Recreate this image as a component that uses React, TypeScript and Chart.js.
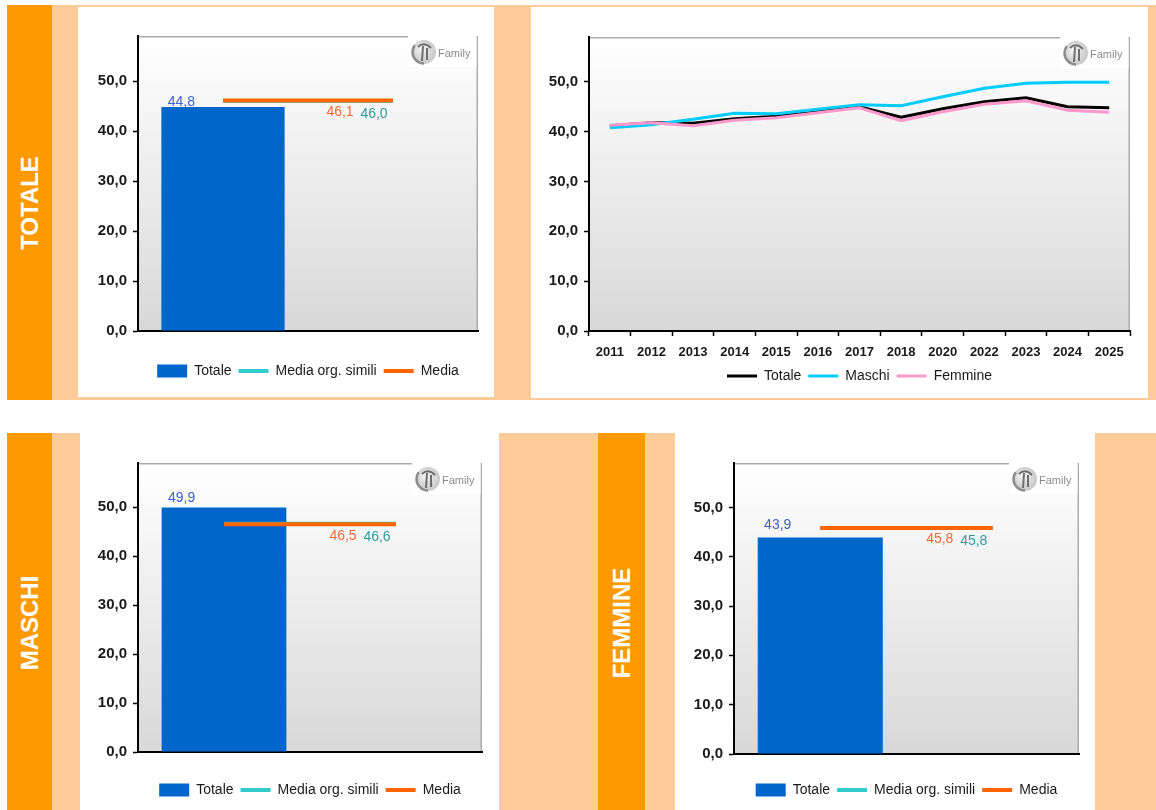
import { useEffect, useRef } from 'react';
import { Chart, registerables } from 'chart.js';

Chart.register(...registerables);

const FONT = '"Liberation Sans", Arial, Helvetica, sans-serif';
const ORANGE = '#FF9900';
const PEACH = '#FFCC99';

// Trend over the years
const years = ['2011', '2012', '2013', '2014', '2015', '2016', '2017', '2018', '2020', '2022', '2023', '2024', '2025'];
const trendTotale = [41.2, 41.8, 41.7, 42.6, 43.1, 44.0, 45.0, 42.9, 44.6, 46.0, 46.8, 45.0, 44.8];
const trendMaschi = [40.8, 41.4, 42.5, 43.7, 43.6, 44.5, 45.4, 45.2, 47.0, 48.7, 49.7, 49.9, 49.9];
const trendFemmine = [41.3, 41.8, 41.2, 42.3, 42.8, 43.8, 44.8, 42.2, 44.0, 45.5, 46.2, 44.3, 43.9];
const trendNames = ['Totale', 'Maschi', 'Femmine'];

// Current value against the averages (TOTALE, MASCHI, FEMMINE)
const panelTitles = ['TOTALE', 'MASCHI', 'FEMMINE'];
const currentValues = [44.8, 49.9, 43.9];
const similiValues = [46.0, 46.6, 45.8];
const mediaValues = [46.1, 46.5, 45.8];
const snapshotNames = ['Totale', 'Media org. simili', 'Media'];
const snapshotSlots = ['', ''];

// Value axis: 0 to 59, labelled every 10
const yMin = 0;
const yMax = 59;
const yStep = 10;

const fmt = (v: number) => Number(v).toFixed(1).replace('.', ',');

function drawLogo(ctx: CanvasRenderingContext2D, right: number, top: number) {
  ctx.fillStyle = '#ffffff';
  ctx.fillRect(right - 70, top - 2, 68.5, 33);
  const cx = right - 54;
  const cy = top + 16;
  const rg = ctx.createRadialGradient(cx - 3, cy - 4, 1, cx, cy, 13);
  rg.addColorStop(0, '#f4f4f4');
  rg.addColorStop(1, '#c4c4c4');
  ctx.fillStyle = rg;
  ctx.beginPath();
  ctx.arc(cx, cy, 12, 0, Math.PI * 2);
  ctx.fill();
  ctx.strokeStyle = '#8c8c8c';
  ctx.lineWidth = 2.5;
  ctx.beginPath();
  ctx.arc(cx, cy, 11.5, Math.PI * 0.5, Math.PI * 1.2);
  ctx.stroke();
  ctx.strokeStyle = '#6e6e6e';
  ctx.lineWidth = 2;
  ctx.beginPath();
  ctx.moveTo(cx - 2, cy + 9);
  ctx.lineTo(cx - 1, cy - 6);
  ctx.moveTo(cx + 3, cy + 8);
  ctx.lineTo(cx + 3, cy - 4);
  ctx.moveTo(cx - 6, cy - 5);
  ctx.quadraticCurveTo(cx, cy - 11, cx + 7, cy - 4);
  ctx.stroke();
  ctx.fillStyle = '#8a8a8a';
  ctx.font = `11px ${FONT}`;
  ctx.textAlign = 'left';
  ctx.textBaseline = 'middle';
  ctx.fillText('Family', cx + 14, cy + 2);
}

// Gradient plot background, light frame and the small logo; legend centred under the plot
const plotFrame = {
  id: 'plotFrame',
  afterLayout(chart: any) {
    const lg = chart.legend;
    if (lg) {
      lg.left = chart.chartArea.left;
      lg.right = chart.chartArea.right;
    }
  },
  beforeDraw(chart: any) {
    const { ctx, chartArea: a } = chart;
    ctx.save();
    const g = ctx.createLinearGradient(0, a.top, 0, a.bottom);
    g.addColorStop(0, '#ffffff');
    g.addColorStop(1, '#d8d8d8');
    ctx.fillStyle = g;
    ctx.fillRect(a.left, a.top, a.right - a.left, a.bottom - a.top);
    ctx.strokeStyle = '#ababab';
    ctx.lineWidth = 1.5;
    ctx.beginPath();
    ctx.moveTo(a.left, a.top + 0.75);
    ctx.lineTo(a.right, a.top + 0.75);
    ctx.moveTo(a.right - 0.75, a.top);
    ctx.lineTo(a.right - 0.75, a.bottom);
    ctx.stroke();
    drawLogo(ctx, a.right, a.top);
    ctx.restore();
  },
};

// Value labels: bar value above the bar, averages below the end of their lines
const valueLabels = {
  id: 'valueLabels',
  afterDatasetsDraw(chart: any, _args: any, opts: any) {
    const ctx = chart.ctx;
    ctx.save();
    ctx.font = `14px ${FONT}`;
    ctx.textAlign = 'center';
    ctx.textBaseline = 'middle';
    chart.data.datasets.forEach((ds: any, i: number) => {
      const meta = chart.getDatasetMeta(i);
      const style = opts.styles[i];
      if (ds.type === 'bar') {
        const el = meta.data[0];
        ctx.fillStyle = style.color;
        ctx.fillText(fmt(ds.data[0]), el.x - el.width / 2 + style.dx, el.y - opts.barLift);
      } else {
        const el = meta.data[meta.data.length - 1];
        ctx.fillStyle = style.color;
        ctx.fillText(fmt(ds.data[ds.data.length - 1]), el.x + style.dx, el.y + style.dy);
      }
    });
    ctx.restore();
  },
};

const Y_AXIS_WIDTH = 55;

const yAxis = () => ({
  min: yMin,
  max: yMax,
  bounds: 'data',
  ticks: {
    stepSize: yStep,
    includeBounds: false,
    callback: (v: any) => fmt(v),
    font: { family: FONT, size: 15, weight: 'bold' },
    color: '#1a1a1a',
    padding: 6,
  },
  grid: { drawOnChartArea: false, tickLength: 5, tickColor: '#000', tickWidth: 1.5 },
  border: { color: '#000', width: 2 },
  afterBuildTicks: (s: any) => {
    s.ticks = s.ticks.filter((t: any) => t.value % yStep === 0);
  },
  afterFit: (s: any) => {
    s.width = Y_AXIS_WIDTH;
  },
});

const legendOpts = {
  position: 'bottom',
  labels: {
    usePointStyle: true,
    pointStyleWidth: 30,
    boxHeight: 13,
    padding: 7,
    font: { family: FONT, size: 14 },
    color: '#1a1a1a',
    sort: (a: any, b: any) => a.datasetIndex - b.datasetIndex,
  },
};

type Box = { left: number; top: number; width: number; height: number };

function ChartCanvas({ box, make }: { box: Box; make: () => any }) {
  const ref = useRef<HTMLCanvasElement>(null);
  useEffect(() => {
    const chart = new Chart(ref.current as HTMLCanvasElement, make());
    return () => chart.destroy();
  }, []);
  return (
    <canvas
      ref={ref}
      width={box.width}
      height={box.height}
      style={{ position: 'absolute', left: box.left, top: box.top, width: box.width, height: box.height }}
    />
  );
}

type SnapLayout = {
  box: Box;
  pad: { left: number; right: number; top: number; bottom: number };
  xHeight: number;
  barLift: number;
};

const snapLayouts: SnapLayout[] = [
  { box: { left: 78, top: 7, width: 416, height: 390 }, pad: { left: 5, right: 16, top: 29, bottom: 9 }, xHeight: 26, barLift: 5 },
  { box: { left: 80, top: 432, width: 419, height: 378 }, pad: { left: 3, right: 17, top: 31, bottom: 3 }, xHeight: 24, barLift: 9 },
  { box: { left: 675, top: 432, width: 420, height: 378 }, pad: { left: 4, right: 16, top: 31, bottom: 3 }, xHeight: 22, barLift: 12 },
];

function snapshotConfig(i: number) {
  const lay = snapLayouts[i];
  return {
    type: 'bar',
    data: {
      labels: snapshotSlots,
      datasets: [
        {
          type: 'bar',
          label: snapshotNames[0],
          data: [currentValues[i], null],
          backgroundColor: '#0066CC',
          borderWidth: 0,
          barPercentage: 0.725,
          categoryPercentage: 1,
          order: 3,
          pointStyle: 'rect',
        },
        {
          type: 'line',
          label: snapshotNames[1],
          data: [similiValues[i], similiValues[i]],
          borderColor: '#33CCCC',
          backgroundColor: '#33CCCC',
          borderWidth: 4,
          pointRadius: 0,
          order: 2,
          pointStyle: 'line',
        },
        {
          type: 'line',
          label: snapshotNames[2],
          data: [mediaValues[i], mediaValues[i]],
          borderColor: '#FF6600',
          backgroundColor: '#FF6600',
          borderWidth: 4,
          pointRadius: 0,
          order: 1,
          pointStyle: 'line',
        },
      ],
    },
    options: {
      animation: false,
      responsive: false,
      layout: { padding: lay.pad },
      scales: {
        x: {
          ticks: { display: false },
          grid: { display: false },
          border: { color: '#000', width: 2 },
          afterFit: (s: any) => {
            s.height = lay.xHeight;
          },
        },
        y: yAxis(),
      },
      plugins: {
        legend: legendOpts,
        tooltip: { enabled: false },
        valueLabels: {
          barLift: lay.barLift,
          styles: [
            { color: '#3F5FD8', dx: 20 },
            { color: '#2E9A9A', dx: -19, dy: 13.5 },
            { color: '#FF6633', dx: -53, dy: 11.5 },
          ],
        },
      },
    },
    plugins: [plotFrame, valueLabels],
  };
}

const trendBox: Box = { left: 530, top: 7, width: 618, height: 391 };

function trendConfig() {
  const line = (label: string, data: number[], color: string, order: number) => ({
    label,
    data,
    borderColor: color,
    backgroundColor: color,
    borderWidth: 3,
    pointRadius: 0,
    tension: 0,
    order,
    pointStyle: 'line',
  });
  return {
    type: 'line',
    data: {
      labels: years,
      datasets: [
        line(trendNames[0], trendTotale, '#000000', 3),
        line(trendNames[1], trendMaschi, '#00CCFF', 2),
        line(trendNames[2], trendFemmine, '#FF99CC', 1),
      ],
    },
    options: {
      animation: false,
      responsive: false,
      layout: { padding: { left: 4, right: 18, top: 30, bottom: 5 } },
      scales: {
        x: {
          offset: true,
          ticks: {
            font: { family: FONT, size: 13, weight: 'bold' },
            color: '#1a1a1a',
            padding: 9,
            maxRotation: 0,
            autoSkip: false,
          },
          grid: { offset: true, drawOnChartArea: false, tickLength: 5, tickColor: '#000', tickWidth: 1.5 },
          border: { color: '#000', width: 2 },
          afterFit: (s: any) => {
            s.height = 31;
          },
        },
        y: yAxis(),
      },
      plugins: {
        legend: legendOpts,
        tooltip: { enabled: false },
      },
    },
    plugins: [plotFrame],
  };
}

const stripText: any = {
  position: 'absolute',
  color: '#ffffff',
  fontFamily: FONT,
  fontWeight: 'bold',
  fontSize: 24,
  lineHeight: 1,
  whiteSpace: 'nowrap',
  transform: 'translate(-50%, -50%) rotate(-90deg)',
};

const abs = (left: number, top: number, width: number, height: number, background: string): any => ({
  position: 'absolute',
  left,
  top,
  width,
  height,
  background,
});

export default function App() {
  return (
    <div style={{ position: 'absolute', left: 0, top: 0, width: 1156, height: 810, background: '#fff', overflow: 'hidden' }}>
      <div style={abs(7, 5, 1149, 395, PEACH)} />
      <div style={abs(7, 433, 1149, 377, PEACH)} />

      <div style={abs(7, 5, 45, 395, ORANGE)} />
      <div style={abs(7, 433, 45, 377, ORANGE)} />
      <div style={abs(598, 433, 47, 377, ORANGE)} />
      <div style={{ ...stripText, left: 30, top: 203 }}>{panelTitles[0]}</div>
      <div style={{ ...stripText, left: 30, top: 623 }}>{panelTitles[1]}</div>
      <div style={{ ...stripText, left: 622, top: 623 }}>{panelTitles[2]}</div>

      <div style={abs(78, 7, 416, 390, '#fff')} />
      <div style={abs(531, 7, 617, 391, '#fff')} />
      <div style={abs(80, 432, 419, 378, '#fff')} />
      <div style={abs(675, 432, 420, 378, '#fff')} />

      <ChartCanvas box={snapLayouts[0].box} make={() => snapshotConfig(0)} />
      <ChartCanvas box={trendBox} make={trendConfig} />
      <ChartCanvas box={snapLayouts[1].box} make={() => snapshotConfig(1)} />
      <ChartCanvas box={snapLayouts[2].box} make={() => snapshotConfig(2)} />
    </div>
  );
}
